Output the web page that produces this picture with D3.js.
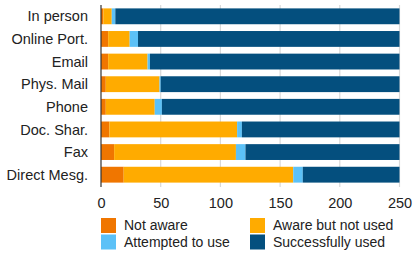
<!DOCTYPE html>
<html>
<head>
<meta charset="utf-8">
<script src="https://cdn.jsdelivr.net/npm/d3@7"></script>
<style>
  body { margin: 0; background: #fff; }
  svg { display: block; font-family: "Liberation Sans", Arial, sans-serif; }
</style>
</head>
<body>
<svg id="chart" width="416" height="253"></svg>
<script>
/*** DATA ***/
const channels = ['In person', 'Online Port.', 'Email', 'Phys. Mail', 'Phone', 'Doc. Shar.', 'Fax', 'Direct Mesg.'];
const seriesNames = ['Not aware', 'Aware but not used', 'Attempted to use', 'Successfully used'];
const notAware   = [2, 6, 6, 4, 4, 7, 11, 19];
const awareNot   = [7, 18, 33, 45, 41, 107, 102, 142];
const attempted  = [3, 7, 2, 1, 6, 4, 8, 8];
const successful = [238, 219, 209, 200, 199, 132, 129, 81];
const xTicks = [0, 50, 100, 150, 200, 250];
const colors = ['#f07600', '#ffab00', '#5cc1f7', '#044f7e'];

/*** DIMENSIONS ***/
const margin = {top: 5, right: 16, bottom: 67, left: 101};
const W = 416, H = 253;
const width = W - margin.left - margin.right;
const height = H - margin.top - margin.bottom;

const rows = channels.map((c, i) => ({
  channel: c,
  'Not aware': notAware[i],
  'Aware but not used': awareNot[i],
  'Attempted to use': attempted[i],
  'Successfully used': successful[i]
}));
const stacked = d3.stack().keys(seriesNames)(rows);

const svg = d3.select('#chart');
const g = svg.append('g').attr('transform', `translate(${margin.left},${margin.top})`);

const x = d3.scaleLinear().domain([0, 250]).range([0, width - 0.5]);
const y = d3.scaleBand().domain(channels).range([0, height]).paddingInner(0.3).paddingOuter(0.15);
const color = d3.scaleOrdinal().domain(seriesNames).range(colors);

// gridlines
g.append('g').selectAll('line')
  .data(xTicks.slice(1))
  .enter().append('line')
    .attr('x1', d => x(d)).attr('x2', d => x(d))
    .attr('y1', 0).attr('y2', height + 1)
    .attr('stroke', '#d9d9d9').attr('stroke-width', 1.2);

// bars
g.append('g').selectAll('g')
  .data(stacked)
  .enter().append('g')
    .attr('fill', d => color(d.key))
  .selectAll('rect')
  .data(d => d)
  .enter().append('rect')
    .attr('x', d => x(d[0]))
    .attr('y', d => y(d.data.channel))
    .attr('width', d => x(d[1]) - x(d[0]))
    .attr('height', y.bandwidth());

// left axis line + labels
g.append('line')
  .attr('x1', 0).attr('x2', 0).attr('y1', 0).attr('y2', height + 1)
  .attr('stroke', '#333').attr('stroke-width', 1.2);

g.append('g').selectAll('text')
  .data(channels)
  .enter().append('text')
    .attr('x', -13)
    .attr('y', d => y(d) + y.bandwidth() / 2)
    .attr('dy', '0.35em')
    .attr('text-anchor', 'end')
    .attr('font-size', 14.5)
    .attr('fill', '#222')
    .text(d => d);

// x axis labels
const xAxis = g.append('g')
  .attr('transform', `translate(0,${height})`)
  .call(d3.axisBottom(x).tickValues(xTicks).tickSize(0).tickPadding(12));
xAxis.select('.domain').remove();
xAxis.selectAll('text')
  .attr('font-size', 14.5)
  .attr('font-family', '"Liberation Sans", Arial, sans-serif')
  .attr('fill', '#222');

/*** LEGEND ***/
const legend = svg.append('g').attr('transform', `translate(${margin.left},218)`);
const entries = legend.selectAll('g')
  .data(seriesNames)
  .enter().append('g')
    .attr('transform', (d, i) => `translate(${(i % 2) * 149},${Math.floor(i / 2) * 16.5})`);
entries.append('rect')
  .attr('width', 15).attr('height', 15)
  .attr('fill', d => color(d));
entries.append('text')
  .attr('x', 23).attr('y', 7.5).attr('dy', '0.35em')
  .attr('font-size', 14)
  .attr('fill', '#222')
  .text(d => d);
</script>
</body>
</html>
